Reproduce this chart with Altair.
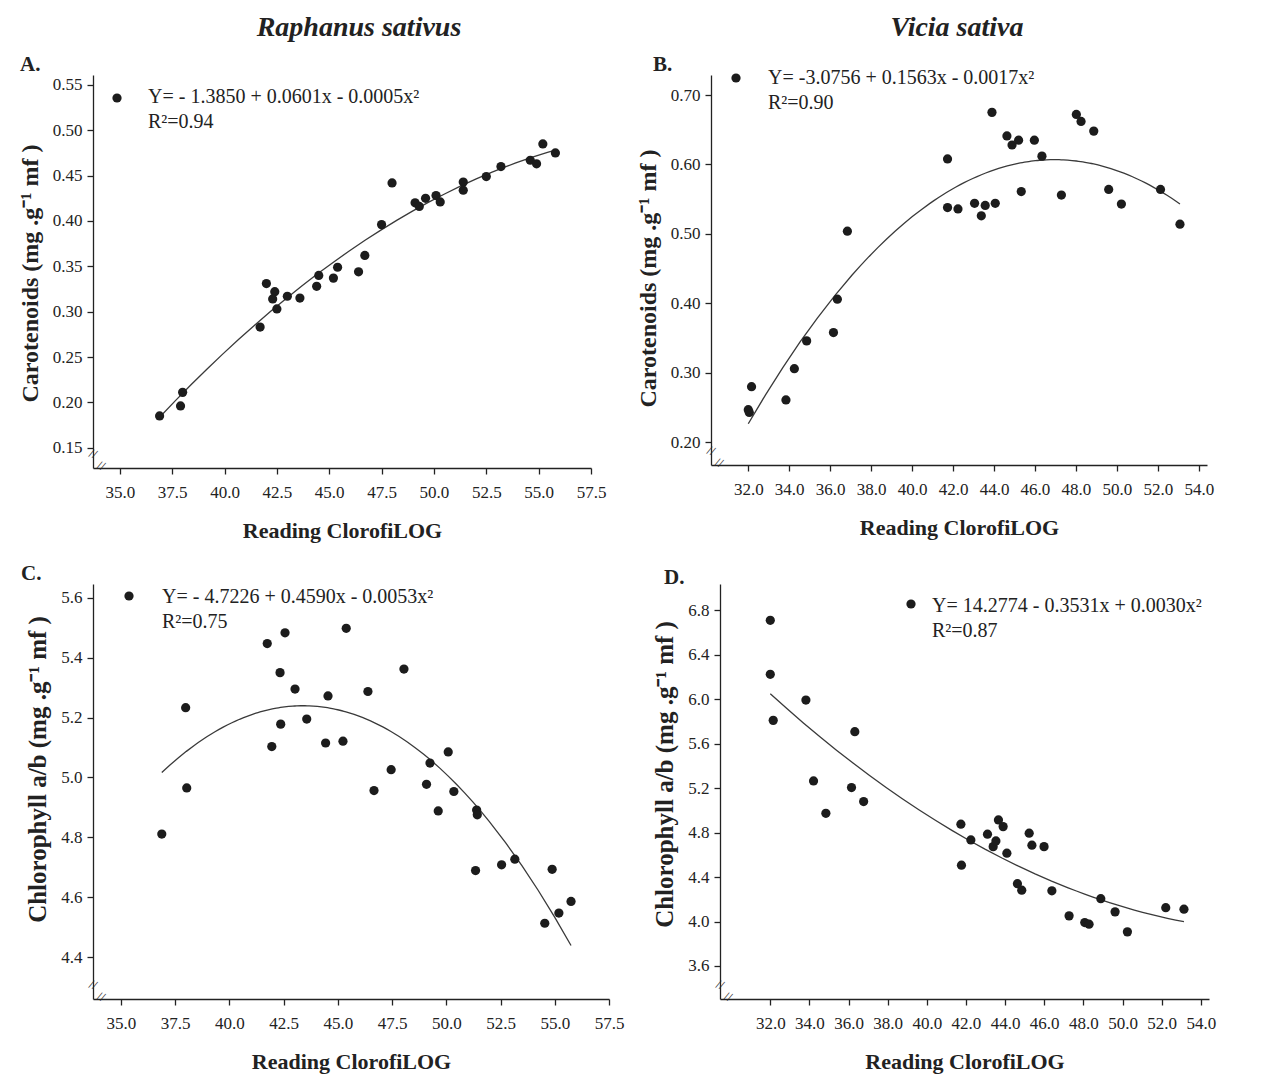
import altair as alt
import pandas as pd

FONT = "Liberation Serif"
INK = "#1c1c1c"

# ---------------- data ----------------
# A. Raphanus sativus - carotenoids
A_x = [36.9, 37.9, 38.0, 41.7, 42.0, 42.4, 42.3, 42.5, 43.0, 43.6, 44.4, 44.5, 45.2, 45.4, 46.4, 46.7,
       47.5, 48.0, 49.1, 49.3, 49.6, 50.1, 50.3, 51.4, 51.4, 52.5, 53.2, 54.6, 54.9, 55.2, 55.8]
A_y = [0.185, 0.196, 0.211, 0.283, 0.331, 0.322, 0.314, 0.303, 0.317, 0.315, 0.328, 0.340, 0.337, 0.349,
       0.344, 0.362, 0.396, 0.442, 0.420, 0.416, 0.425, 0.428, 0.421, 0.443, 0.434, 0.449, 0.460, 0.467,
       0.463, 0.485, 0.475]
# B. Vicia sativa - carotenoids
B_x = [32.0, 32.05, 32.16, 33.84, 34.25, 34.85, 36.16, 36.35, 36.84, 41.73, 41.73, 42.24, 43.05, 43.38,
       43.57, 44.06, 43.90, 44.63, 44.88, 45.20, 45.33, 45.97, 46.34, 47.29, 48.02, 48.25, 48.87, 49.60,
       50.22, 52.13, 53.08]
B_y = [0.247, 0.243, 0.280, 0.261, 0.306, 0.346, 0.358, 0.406, 0.504, 0.608, 0.538, 0.536, 0.544, 0.526,
       0.541, 0.544, 0.675, 0.641, 0.628, 0.635, 0.561, 0.635, 0.612, 0.556, 0.672, 0.662, 0.648, 0.564,
       0.543, 0.564, 0.514]
# C. Raphanus sativus - chlorophyll a/b
C_x = [36.89, 37.99, 38.04, 41.75, 41.96, 42.34, 42.37, 42.57, 43.03, 43.57, 44.44, 44.55, 45.24, 45.39,
       46.39, 46.67, 47.46, 48.05, 49.09, 49.25, 49.63, 50.09, 50.35, 51.40, 51.43, 51.35, 52.55, 53.16,
       54.54, 54.88, 55.19, 55.75]
C_y = [4.811, 5.233, 4.965, 5.447, 5.103, 5.350, 5.178, 5.483, 5.295, 5.195, 5.115, 5.272, 5.121, 5.498,
       5.287, 4.956, 5.026, 5.362, 4.977, 5.048, 4.888, 5.085, 4.953, 4.891, 4.875, 4.689, 4.708, 4.727,
       4.513, 4.693, 4.547, 4.586]
# D. Vicia sativa - chlorophyll a/b
D_x = [32.0, 32.0, 32.15, 33.82, 34.21, 34.84, 36.15, 36.32, 36.77, 41.74, 41.77, 42.25, 43.10, 43.39,
       43.53, 43.66, 43.90, 44.09, 44.63, 44.85, 45.23, 45.37, 45.99, 46.39, 47.27, 48.07, 48.29, 48.89,
       49.62, 50.25, 52.21, 53.14]
D_y = [6.71, 6.224, 5.81, 5.993, 5.265, 4.974, 5.205, 5.708, 5.079, 4.876, 4.507, 4.734, 4.786, 4.674,
       4.725, 4.914, 4.854, 4.615, 4.341, 4.282, 4.795, 4.687, 4.674, 4.276, 4.051, 3.991, 3.976, 4.206,
       4.087, 3.907, 4.125, 4.111]

X_TICKS_R = [35.0, 37.5, 40.0, 42.5, 45.0, 47.5, 50.0, 52.5, 55.0, 57.5]
X_TICKS_V = [32.0, 34.0, 36.0, 38.0, 40.0, 42.0, 44.0, 46.0, 48.0, 50.0, 52.0, 54.0]
Y_TICKS_A = [0.15, 0.20, 0.25, 0.30, 0.35, 0.40, 0.45, 0.50, 0.55]
Y_TICKS_B = [0.20, 0.25, 0.30, 0.35, 0.40, 0.45, 0.50, 0.55, 0.60, 0.65, 0.70]
Y_TICKS_C = [4.4, 4.6, 4.8, 5.0, 5.2, 5.4, 5.6]
Y_TICKS_D = [3.6, 4.0, 4.4, 4.8, 5.2, 5.6, 6.0, 6.4, 6.8]

EQ = {
    "A": ("Y= - 1.3850 + 0.0601x - 0.0005x\u00b2", "R\u00b2=0.94"),
    "B": ("Y= -3.0756 + 0.1563x - 0.0017x\u00b2", "R\u00b2=0.90"),
    "C": ("Y= - 4.7226 + 0.4590x - 0.0053x\u00b2", "R\u00b2=0.75"),
    "D": ("Y= 14.2774 - 0.3531x + 0.0030x\u00b2", "R\u00b2=0.87"),
}
CARO = "Carotenoids (mg .g\u207b\u00b9 mf )"
CHLO = "Chlorophyll a/b (mg .g\u207b\u00b9 mf )"
XTITLE = "Reading ClorofiLOG"

one = pd.DataFrame({"k": [0]})


def panel(xs, ys, xdom, ydom, xticks, yticks, xfmt, yfmt, ytitle, w, h, key,
          leg, eqpos, letpos, ytsize, ytitley, title=None, tdx=0):
    df = pd.DataFrame({"x": xs, "y": ys})
    sx = alt.Scale(domain=xdom, nice=False, zero=False)
    sy = alt.Scale(domain=ydom, nice=False, zero=False)
    pts = alt.Chart(df).mark_circle(size=85, color=INK, opacity=1).encode(
        x=alt.X("x:Q", scale=sx, axis=alt.Axis(values=xticks, format=xfmt, title=XTITLE,
                                               labelFlush=False)),
        y=alt.Y("y:Q", scale=sy, axis=alt.Axis(values=yticks, format=yfmt, title=ytitle,
                                               titleFontSize=ytsize, titleY=ytitley,
                                               labelFlush=False)),
    )
    fit = alt.Chart(df).transform_regression("x", "y", method="poly", order=2).mark_line(
        color="#3a3a3a", strokeWidth=1.3
    ).encode(x=alt.X("x:Q", scale=sx), y=alt.Y("y:Q", scale=sy))
    eq, r2 = EQ[key]
    legpt = alt.Chart(one).mark_circle(size=85, color=INK, opacity=1).encode(
        x=alt.value(leg[0]), y=alt.value(leg[1]))
    t1 = alt.Chart(one).mark_text(text=eq, align="left", baseline="middle", font=FONT,
                                  fontSize=20, color="#222").encode(
        x=alt.value(eqpos[0]), y=alt.value(eqpos[1]))
    t2 = alt.Chart(one).mark_text(text=r2, align="left", baseline="middle", font=FONT,
                                  fontSize=20, color="#222").encode(
        x=alt.value(eqpos[0]), y=alt.value(eqpos[1] + 25))
    let = alt.Chart(one).mark_text(text=key + ".", align="left", baseline="middle", font=FONT,
                                   fontSize=21, fontWeight="bold", color="#222").encode(
        x=alt.value(letpos[0]), y=alt.value(letpos[1]))
    brk1 = alt.Chart(one).mark_text(text="//", align="center", baseline="middle", font=FONT,
                                    fontSize=13, color="#222", angle=20).encode(
        x=alt.value(0), y=alt.value(h - 14))
    brk2 = alt.Chart(one).mark_text(text="//", align="center", baseline="middle", font=FONT,
                                    fontSize=13, color="#222", angle=20).encode(
        x=alt.value(8), y=alt.value(h - 2))
    props = dict(width=w, height=h)
    if title:
        props["title"] = alt.TitleParams(text=title, font=FONT, fontSize=28, fontStyle="italic",
                                         fontWeight="bold", color="#222", offset=12, anchor="middle",
                                         dx=tdx)
    return alt.layer(fit, pts, legpt, t1, t2, let, brk1, brk2).properties(**props)


pA = panel(A_x, A_y, [33.72, 57.5], [0.1276, 0.561], X_TICKS_R, Y_TICKS_A, ".1f", ".2f", CARO,
           498, 393, "A", (24, 23), (55, 22), (-73, -10), 24, 198, "Raphanus sativus", 17)
pB = panel(B_x, B_y, [30.18, 54.4], [0.1673, 0.7288], X_TICKS_V, Y_TICKS_B, ".1f", ".2f", CARO,
           496, 390, "B", (25, 3), (57, 3), (-58, -10), 24, 203, "Vicia sativa", -2)
pC = panel(C_x, C_y, [33.72, 57.5], [4.26, 5.646], X_TICKS_R, Y_TICKS_C, ".1f", ".1f", CHLO,
           516, 415, "C", (36, 12), (69, 13), (-72, -10), 25, 185)
pD = panel(D_x, D_y, [29.43, 54.42], [3.303, 7.037], X_TICKS_V, Y_TICKS_D, ".1f", ".1f", CHLO,
           489, 415, "D", (191, 20), (212, 22), (-56, -6), 25, 190)

row1 = alt.hconcat(pA, pB, spacing=120, bounds="flush")
row2 = alt.hconcat(pC, pD, spacing=111, bounds="flush")
chart = alt.vconcat(row1, row2, spacing=20).configure_view(
    stroke="transparent"
).configure_axis(
    grid=False,
    domainColor="#222",
    domainWidth=1.3,
    tickColor="#222",
    tickWidth=1.3,
    tickSize=6,
    labelFont=FONT,
    labelFontSize=17,
    labelColor="#222",
    labelPadding=5,
    titleFont=FONT,
    titleFontSize=22,
    titleFontWeight="bold",
    titleColor="#222",
).configure_axisX(titlePadding=20, labelPadding=10).configure_axisY(titlePadding=10).properties(
    background="white",
    padding={"left": 9, "top": 5, "right": 5, "bottom": 5},
)

chart.save("out.html", embed_options={"renderer": "svg", "actions": False})
